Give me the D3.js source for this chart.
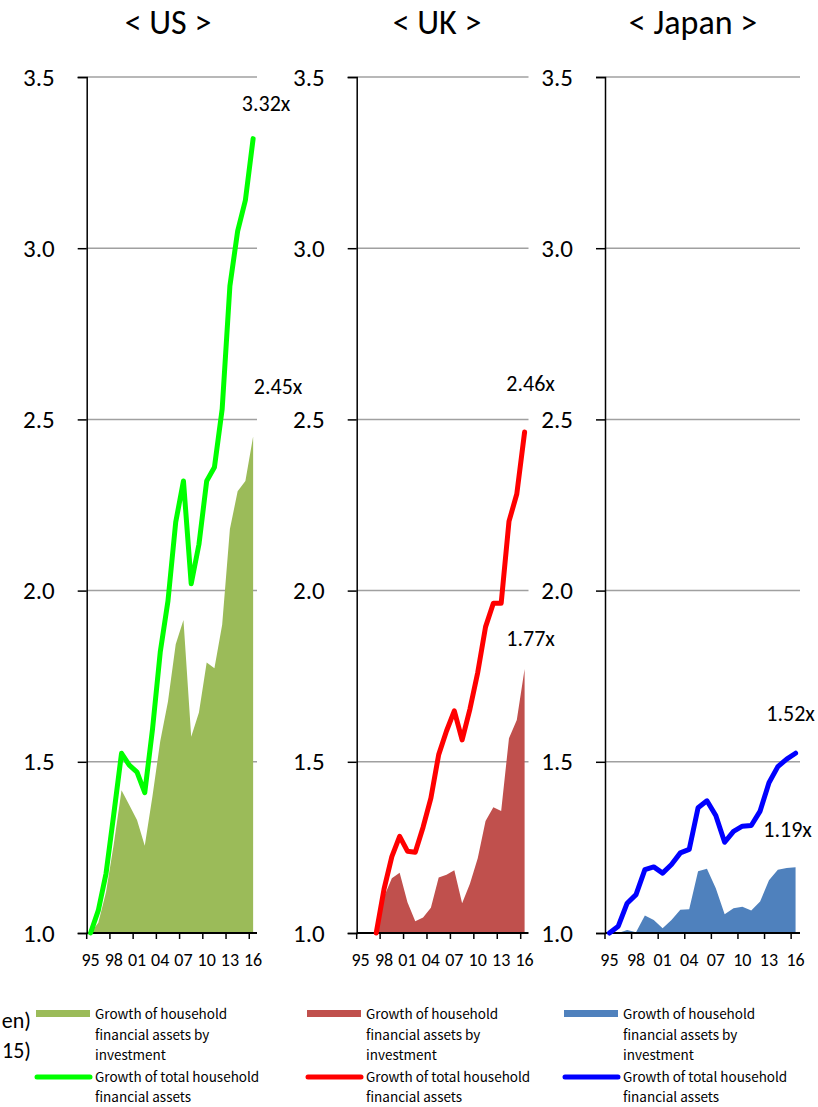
<!DOCTYPE html>
<html>
<head>
<meta charset="utf-8">
<script src="https://cdn.jsdelivr.net/npm/d3@7"></script>
<style>
    body { margin: 0; background: #fff; }
    svg { display: block; }
    .lbl { font-family: Carlito, Calibri, Lato, sans-serif; fill: #000; }
    .leg { font-family: "Noto Sans CJK JP", sans-serif; fill: #000; }
</style>
</head>
<body>
<div id="chart"></div>
<script>
// categories (1995 - 2016)
const years = ["95", "96", "97", "98", "99", "00", "01", "02", "03", "04", "05",
    "06", "07", "08", "09", "10", "11", "12", "13", "14", "15", "16"];
const yTicks = [1.0, 1.5, 2.0, 2.5, 3.0, 3.5];

// growth of total household financial assets (1995 = 1)
const usTotal = [1.00, 1.066, 1.174, 1.347, 1.525, 1.49, 1.47, 1.41, 1.595, 1.82, 1.97,
    2.20, 2.32, 2.02, 2.135, 2.32, 2.36, 2.53, 2.89, 3.05, 3.14, 3.32];
const ukTotal = [null, null, 1.00, 1.128, 1.223, 1.282, 1.239, 1.236, 1.309, 1.394, 1.521,
    1.59, 1.649, 1.564, 1.654, 1.761, 1.894, 1.963, 1.963, 2.202, 2.282, 2.463];
const jpTotal = [1.00, 1.02, 1.087, 1.112, 1.185, 1.193, 1.175, 1.20, 1.234, 1.244, 1.366,
    1.386, 1.343, 1.265, 1.297, 1.312, 1.314, 1.356, 1.439, 1.486, 1.508, 1.525];

// growth of household financial assets by investment
const usInvest = [1.00, 1.03, 1.12, 1.26, 1.417, 1.374, 1.33, 1.255, 1.40, 1.56, 1.676,
    1.843, 1.914, 1.573, 1.644, 1.79, 1.773, 1.90, 2.18, 2.29, 2.32, 2.45];
const ukInvest = [null, null, 1.00, 1.106, 1.16, 1.176, 1.09, 1.034, 1.045, 1.074, 1.162,
    1.17, 1.183, 1.087, 1.144, 1.218, 1.327, 1.367, 1.356, 1.569, 1.622, 1.771];
const jpInvest = [1.00, 1.00, 1.009, 1.002, 1.051, 1.038, 1.014, 1.038, 1.068, 1.069, 1.18,
    1.188, 1.131, 1.055, 1.072, 1.077, 1.066, 1.092, 1.154, 1.185, 1.19, 1.192];

const titles = ["< US >", "< UK >", "< Japan >"];
const totalLabels = ["3.32x", "2.46x", "1.52x"];
const investLabels = ["2.45x", "1.77x", "1.19x"];
const legendInvest = ["Growth of household", "financial assets by", "investment"];
const legendTotal = ["Growth of total household", "financial assets"];

const W = 818, H = 1107;
const svg = d3.select("#chart").append("svg")
    .attr("width", W).attr("height", H)
    .attr("viewBox", `0 0 ${W} ${H}`);

const yScale = d3.scaleLinear().domain([1, 3.5]).range([933, 77]);

// layout + styling of each panel (not data)
const panels = [
    { total: usTotal, invest: usInvest, x0: 86.7, x1: 257, titleX: 168,
      area: "#9bbb59", line: "#00ff00",
      tOff: [13, -33], iOff: [25, -48], legX: 36 },
    { total: ukTotal, invest: ukInvest, x0: 356.7, x1: 528.5, titleX: 437,
      area: "#c0504d", line: "#ff0000",
      tOff: [6, -46], iOff: [6, -28], legX: 307 },
    { total: jpTotal, invest: jpInvest, x0: 605, x1: 800, titleX: 693,
      area: "#4f81bd", line: "#0000ff",
      tOff: [-5, -37], iOff: [-8, -36], legX: 564 }
];

panels.forEach((p, i) => {
    const g = svg.append("g");
    const x = d3.scaleBand().domain(years).range([p.x0, p.x1]);
    const cx = d => x(d) + x.bandwidth() / 2;

    // title
    g.append("text").attr("class", "lbl")
        .attr("x", p.titleX).attr("y", 34)
        .attr("text-anchor", "middle")
        .attr("font-size", 34)
        .text(titles[i]);

    // gridlines
    g.selectAll("line.grid")
        .data(yTicks.filter(t => t > 1))
        .join("line").classed("grid", true)
        .attr("x1", p.x0).attr("x2", p.x1)
        .attr("y1", d => yScale(d)).attr("y2", d => yScale(d))
        .attr("stroke", "#a0a0a0").attr("stroke-width", 1.5);

    // investment area
    const rows = years.map((yr, k) => ({ yr, t: p.total[k], v: p.invest[k] }));
    const area = d3.area()
        .defined(d => d.v != null)
        .x(d => cx(d.yr))
        .y0(yScale(1))
        .y1(d => yScale(d.v));
    g.append("path").datum(rows)
        .attr("d", area)
        .attr("fill", p.area);

    // y axis
    const yAxis = d3.axisLeft(yScale).tickValues(yTicks)
        .tickSize(9).tickFormat(d3.format(".1f"));
    const ya = g.append("g").attr("transform", `translate(${p.x0},0)`).call(yAxis);
    ya.select(".domain").attr("stroke", "#000").attr("stroke-width", 1.5);
    ya.selectAll(".tick line").attr("stroke", "#000").attr("stroke-width", 1.5);
    ya.selectAll(".tick text").attr("class", "lbl")
        .attr("x", -32).attr("font-size", 25);

    // x axis: ticks between categories, every 3rd one
    const xa = g.append("g");
    xa.append("line")
        .attr("x1", p.x0).attr("x2", p.x1)
        .attr("y1", yScale(1)).attr("y2", yScale(1))
        .attr("stroke", "#000").attr("stroke-width", 2);
    const shown = years.filter((d, k) => k % 3 === 0);
    xa.selectAll("line.tk").data(shown).join("line").classed("tk", true)
        .attr("x1", d => x(d)).attr("x2", d => x(d))
        .attr("y1", yScale(1)).attr("y2", yScale(1) + 6)
        .attr("stroke", "#000").attr("stroke-width", 1.5);
    xa.selectAll("text").data(shown).join("text").attr("class", "lbl")
        .attr("x", d => cx(d)).attr("y", yScale(1) + 33)
        .attr("text-anchor", "middle")
        .attr("font-size", 18)
        .text(d => d);

    // total assets line
    const line = d3.line()
        .defined(d => d.t != null)
        .x(d => cx(d.yr))
        .y(d => yScale(d.t));
    g.append("path").datum(rows)
        .attr("d", line)
        .attr("fill", "none")
        .attr("stroke", p.line)
        .attr("stroke-width", 5)
        .attr("stroke-linejoin", "round")
        .attr("stroke-linecap", "round");

    // end labels
    const last = rows[rows.length - 1];
    g.append("text").attr("class", "lbl")
        .attr("x", cx(last.yr) + p.tOff[0]).attr("y", yScale(last.t) + p.tOff[1])
        .attr("text-anchor", "middle").attr("dominant-baseline", "middle")
        .attr("font-size", 22)
        .text(totalLabels[i]);
    g.append("text").attr("class", "lbl")
        .attr("x", cx(last.yr) + p.iOff[0]).attr("y", yScale(last.v) + p.iOff[1])
        .attr("text-anchor", "middle").attr("dominant-baseline", "middle")
        .attr("font-size", 22)
        .text(investLabels[i]);

    // legend
    const lg = svg.append("g").attr("transform", `translate(${p.legX},0)`);
    lg.append("rect")
        .attr("x", 0).attr("y", 1010)
        .attr("width", 54).attr("height", 7)
        .attr("fill", p.area);
    lg.append("line")
        .attr("x1", 1).attr("x2", 54)
        .attr("y1", 1077).attr("y2", 1077)
        .attr("stroke", p.line).attr("stroke-width", 5)
        .attr("stroke-linecap", "round");
    lg.selectAll("text.li").data(legendInvest).join("text")
        .attr("class", "leg li")
        .attr("x", 59).attr("y", (d, k) => 1019 + k * 20.5)
        .attr("font-size", 13.5)
        .text(d => d);
    lg.selectAll("text.lt").data(legendTotal).join("text")
        .attr("class", "leg lt")
        .attr("x", 59).attr("y", (d, k) => 1082 + k * 20)
        .attr("font-size", 13.5)
        .text(d => d);
});

// clipped unit notes at left edge
svg.selectAll("text.note").data(["en)", "15)"]).join("text")
    .attr("class", "lbl note")
    .attr("x", 31).attr("y", (d, k) => 1028 + k * 30)
    .attr("text-anchor", "end")
    .attr("font-size", 22)
    .text(d => d);
</script>
</body>
</html>
